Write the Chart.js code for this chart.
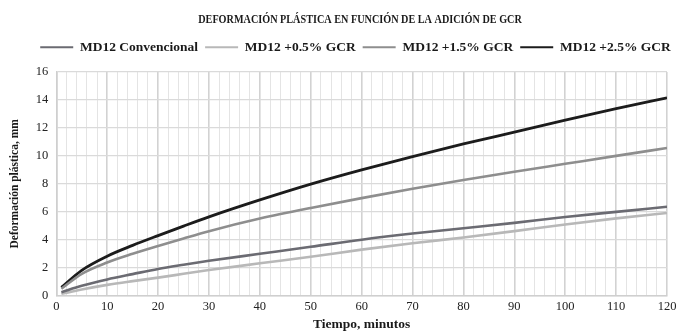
<!DOCTYPE html>
<html>
<head>
<meta charset="utf-8">
<script src="https://cdn.jsdelivr.net/npm/chart.js@4/dist/chart.umd.min.js"></script>
<style>
  html, body { margin: 0; padding: 0; background: #ffffff; }
  #wrap { width: 687px; height: 335px; }
</style>
</head>
<body>
<div id="wrap"><canvas id="chart" width="687" height="335"></canvas></div>
<script>
// Tiempo de ensayo (minutos)
const tiempo = [1, 5, 10, 15, 20, 25, 30, 40, 50, 60, 70, 80, 90, 100, 110, 120];

// Deformación plástica (mm) por mezcla
const md12Convencional = [0.26, 0.72, 1.17, 1.55, 1.92, 2.22, 2.50, 3.00, 3.50, 4.01, 4.45, 4.83, 5.21, 5.63, 6.00, 6.36];
const md12Gcr05 = [0.14, 0.45, 0.78, 1.05, 1.30, 1.57, 1.84, 2.32, 2.79, 3.30, 3.75, 4.17, 4.62, 5.09, 5.53, 5.92];
const md12Gcr15 = [0.50, 1.57, 2.38, 3.00, 3.56, 4.10, 4.62, 5.52, 6.28, 6.98, 7.65, 8.27, 8.86, 9.43, 10.00, 10.56];
const md12Gcr25 = [0.60, 1.82, 2.83, 3.60, 4.30, 4.98, 5.64, 6.85, 7.98, 9.00, 9.95, 10.85, 11.70, 12.55, 13.37, 14.15];

const chartTitle = 'DEFORMACIÓN PLÁSTICA EN FUNCIÓN DE LA ADICIÓN DE GCR';
const seriesNames = ['MD12 Convencional', 'MD12 +0.5% GCR', 'MD12 +1.5% GCR', 'MD12 +2.5% GCR'];
const seriesValues = [md12Convencional, md12Gcr05, md12Gcr15, md12Gcr25];
const seriesColors = ['#6b6b72', '#b8b8b8', '#8e8e8e', '#1c1c1c'];
const seriesWidths = [2.6, 2.6, 2.6, 2.8];

const serif = "'Liberation Serif', 'Times New Roman', serif";

const datasets = seriesNames.map((name, k) => ({
  label: name,
  data: tiempo.map((t, i) => ({ x: t, y: seriesValues[k][i] })),
  borderColor: seriesColors[k],
  backgroundColor: seriesColors[k],
  borderWidth: seriesWidths[k],
  pointRadius: 0,
  cubicInterpolationMode: 'monotone',
  fill: false
}));

// Title in a condensed serif face, drawn inside the space reserved by the title block
const condensedTitle = {
  id: 'condensedTitle',
  afterDraw(chart) {
    const box = chart.titleBlock;
    if (!box) return;
    const ctx = chart.ctx;
    const cy = (box.top + box.bottom) / 2 + 1;
    ctx.save();
    ctx.font = "bold 12px " + serif;
    ctx.fillStyle = '#1a1a1a';
    ctx.textAlign = 'center';
    ctx.textBaseline = 'middle';
    ctx.translate(360, cy);
    ctx.scale(0.85, 1);
    ctx.fillText(chartTitle, 0, 0);
    ctx.restore();
  }
};

// Extra room under the legend row and a small rightward offset of the legend
const legendSpacing = {
  id: 'legendSpacing',
  beforeLayout(chart) {
    const legend = chart.legend;
    if (legend && !legend._spaced) {
      const fit = legend.fit;
      legend.fit = function () {
        fit.call(this);
        this.height += 8;
      };
      legend._spaced = true;
    }
  },
  afterLayout(chart) {
    const legend = chart.legend;
    if (legend) {
      legend.left += 18;
      legend.right += 18;
    }
  }
};

new Chart(document.getElementById('chart'), {
  type: 'line',
  data: { datasets },
  plugins: [condensedTitle, legendSpacing],
  options: {
    responsive: false,
    animation: false,
    layout: { padding: { left: 8, right: 20, top: 4, bottom: 2 } },
    plugins: {
      title: {
        display: true,
        text: chartTitle,
        color: 'rgba(0,0,0,0)',
        font: { family: serif, size: 12, weight: 'bold' },
        padding: { top: 4, bottom: 11 }
      },
      legend: {
        display: true,
        position: 'top',
        labels: {
          color: '#1a1a1a',
          font: { family: serif, size: 13.5, weight: 'bold' },
          boxWidth: 33,
          boxHeight: 2,
          padding: 7,
          generateLabels(chart) {
            return chart.data.datasets.map((d, i) => ({
              text: d.label,
              fillStyle: d.borderColor,
              strokeStyle: d.borderColor,
              lineWidth: 0,
              fontColor: '#1a1a1a',
              datasetIndex: i
            }));
          }
        }
      },
      tooltip: { enabled: false }
    },
    scales: {
      x: {
        type: 'linear',
        min: 0,
        max: 120,
        ticks: {
          stepSize: 2,
          autoSkip: false,
          maxRotation: 0,
          color: '#222222',
          font: { family: serif, size: 12.5 },
          padding: 3,
          callback: v => (v % 10 === 0 ? String(v) : '')
        },
        grid: {
          color: ctx => (ctx.tick && ctx.tick.value % 10 === 0 ? '#d2d2d2' : '#e4e4e4'),
          lineWidth: ctx => (ctx.tick && ctx.tick.value % 10 === 0 ? 1.6 : 1),
          drawTicks: false
        },
        border: { color: '#cfcfcf', width: 1.5 },
        title: {
          display: true,
          text: 'Tiempo, minutos',
          color: '#1a1a1a',
          font: { family: serif, size: 13.5, weight: 'bold' },
          padding: { top: 0, bottom: 0 }
        }
      },
      y: {
        min: 0,
        max: 16,
        ticks: {
          stepSize: 2,
          color: '#222222',
          font: { family: serif, size: 12.5 },
          padding: 8
        },
        grid: { color: '#dadada', lineWidth: 1.3, drawTicks: false },
        border: { color: '#cfcfcf', width: 1.5 },
        title: {
          display: true,
          text: 'Deformación plástica, mm',
          color: '#1a1a1a',
          font: { family: serif, size: 11.5, weight: 'bold' },
          padding: { top: 0, bottom: 6 }
        }
      }
    }
  }
});
</script>
</body>
</html>
